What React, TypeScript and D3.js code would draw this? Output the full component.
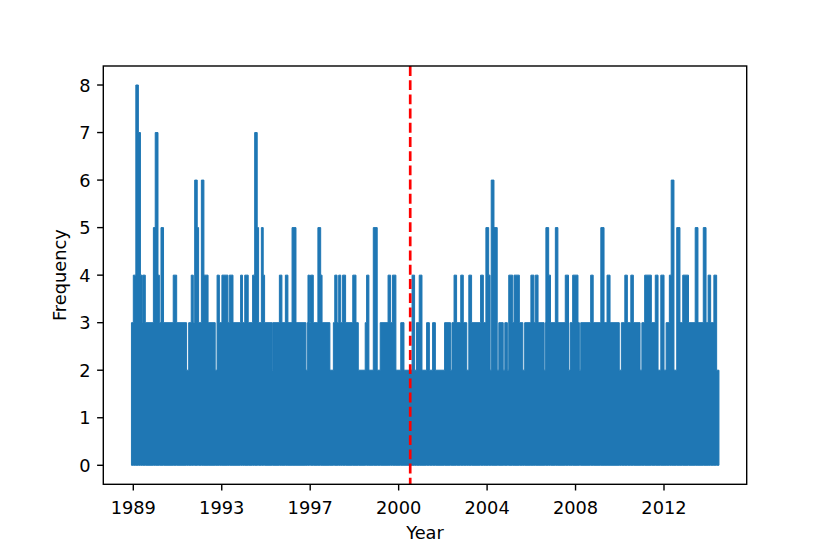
import React from "react";
import * as d3 from "d3";

// Step envelope of the daily frequency series: level holds from each year until the next one
const levelYears = [
  1989.32, 1989.40, 1989.51, 1989.62, 1989.71, 1989.78, 1989.81, 1989.92, 1990.27, 1990.35,
  1990.47, 1990.53, 1990.60, 1990.71, 1991.13, 1991.28, 1991.71, 1991.80, 1991.91, 1992.00,
  1992.06, 1992.17, 1992.23, 1992.35, 1992.46, 1992.64, 1992.95, 1993.03, 1993.13, 1993.24,
  1993.50, 1993.56, 1993.72, 1994.05, 1994.13, 1994.23, 1994.38, 1994.57, 1994.66, 1994.77,
  1994.83, 1994.95, 1995.03, 1995.09, 1995.41, 1995.44, 1995.73, 1995.84, 1995.99, 1996.10,
  1996.28, 1996.45, 1996.88, 1996.94, 1996.97, 1997.04, 1997.08, 1997.20, 1997.40, 1997.52,
  1997.58, 1997.92, 1998.07, 1998.13, 1998.23, 1998.30, 1998.39, 1998.47, 1998.60, 1998.91,
  1999.05, 1999.15, 1999.45, 1999.51, 1999.61, 1999.80, 1999.97, 2000.10, 2000.44, 2000.55,
  2000.63, 2000.78, 2000.99, 2001.13, 2001.48, 2001.59, 2001.67, 2001.79, 2001.91, 2002.11,
  2002.23, 2002.37, 2002.49, 2002.89, 2003.15, 2003.21, 2003.30, 2003.41, 2003.59, 2003.70,
  2003.85, 2003.94, 2004.06, 2004.45, 2004.57, 2004.68, 2004.80, 2004.86, 2004.91, 2005.03,
  2005.17, 2005.24, 2005.43, 2005.50, 2005.61, 2005.67, 2005.84, 2005.90, 2006.13, 2006.28,
  2006.36, 2006.63, 2006.76, 2006.82, 2006.94, 2007.20, 2007.25, 2007.28, 2007.40, 2007.48,
  2007.69, 2007.80, 2008.12, 2008.26, 2008.33, 2008.44, 2008.67, 2008.73, 2008.79, 2009.22,
  2009.33, 2009.66, 2009.80, 2009.93, 2010.06, 2010.46, 2010.55, 2010.70, 2010.81, 2010.96,
  2011.07, 2011.36, 2011.44, 2011.56, 2011.85, 2012.02, 2012.14, 2012.26, 2012.40, 2012.49,
  2012.63, 2012.71, 2012.83, 2012.95, 2013.09, 2013.21, 2013.46, 2013.75, 2013.87, 2014.10,
  2014.22, 2014.31, 2014.42, 2014.56, 2014.68, 2014.78,
];
const levelValues = [
  3, 4, 8, 7, 4, 3, 4, 3, 5, 7,
  4, 3, 5, 3, 4, 3, 2, 3, 4, 3,
  6, 5, 3, 6, 4, 3, 2, 4, 3, 4,
  3, 4, 3, 4, 3, 4, 3, 4, 7, 5,
  3, 5, 4, 3, 2, 3, 4, 3, 4, 3,
  5, 3, 2, 3, 4, 3, 4, 3, 5, 4,
  3, 2, 3, 4, 3, 4, 3, 4, 3, 4,
  3, 2, 3, 4, 2, 5, 2, 3, 4, 3,
  4, 2, 3, 2, 4, 2, 3, 4, 2, 3,
  2, 3, 2, 3, 2, 3, 4, 3, 4, 3,
  2, 4, 3, 4, 3, 5, 4, 2, 6, 5,
  2, 3, 2, 3, 2, 4, 3, 4, 3, 2,
  3, 4, 3, 4, 3, 2, 3, 5, 4, 3,
  5, 3, 4, 2, 3, 4, 3, 2, 3, 4,
  3, 5, 3, 4, 3, 2, 3, 4, 3, 4,
  3, 2, 3, 4, 3, 4, 2, 4, 2, 3,
  4, 6, 2, 5, 3, 4, 3, 5, 3, 5,
  3, 4, 3, 4, 2, 2,
];

const yTicks = [0, 1, 2, 3, 4, 5, 6, 7, 8];
const xTickYears = [1989.4, 1993.233, 1997.066, 2000.899, 2004.732, 2008.565, 2012.398];
const xTickLabels = ["1989", "1993", "1997", "2000", "2004", "2008", "2012"];
const thresholdYear = 2001.4;

export default function App() {
  const W = 830;
  const H = 554;
  const left = 103.3;
  const right = 746.7;
  const top = 66;
  const bottom = 484.3;
  const font = "DejaVu Sans, sans-serif";
  const fs = 17.8;

  const x = d3.scaleLinear().domain([1988.1, 2015.982]).range([left, right]);
  const y = d3.scaleLinear().domain([-0.4, 8.4]).range([bottom, top]);

  const pts: [number, number][] = levelYears.map((yr, i) => [yr, levelValues[i]]);
  const area = d3
    .area<[number, number]>()
    .x((d) => x(d[0]))
    .y0(y(0))
    .y1((d) => y(d[1]))
    .curve(d3.curveStepAfter);

  return (
    <svg
      width={W}
      height={H}
      style={{ position: "absolute", left: 0, top: 0, background: "#fff" }}
      fontFamily={font}
    >
      <rect x={0} y={0} width={W} height={H} fill="#fff" />
      <path d={area(pts) || ""} fill="#1f77b4" stroke="#1f77b4" strokeWidth={1} strokeLinejoin="round" />
      <line
        x1={x(thresholdYear)}
        x2={x(thresholdYear)}
        y1={top}
        y2={bottom}
        stroke="#ff0000"
        strokeWidth={2.67}
        strokeDasharray="9.9,4.3"
      />
      <rect x={left} y={top} width={right - left} height={bottom - top} fill="none" stroke="#000" strokeWidth={1.4} />
      {xTickYears.map((t, i) => (
        <g key={"xt" + i}>
          <line x1={x(t)} x2={x(t)} y1={bottom} y2={bottom + 6.2} stroke="#000" strokeWidth={1.4} />
          <text x={x(t)} y={513.5} textAnchor="middle" fontSize={fs} fill="#000">
            {xTickLabels[i]}
          </text>
        </g>
      ))}
      {yTicks.map((t) => (
        <g key={"yt" + t}>
          <line x1={left - 6.2} x2={left} y1={y(t)} y2={y(t)} stroke="#000" strokeWidth={1.4} />
          <text x={90.5} y={y(t) + 6.5} textAnchor="end" fontSize={fs} fill="#000">
            {t}
          </text>
        </g>
      ))}
      <text x={(left + right) / 2} y={539} textAnchor="middle" fontSize={fs} fill="#000">
        Year
      </text>
      <text
        transform={`translate(66,${(top + bottom) / 2}) rotate(-90)`}
        textAnchor="middle"
        fontSize={fs}
        fill="#000"
      >
        Frequency
      </text>
    </svg>
  );
}
